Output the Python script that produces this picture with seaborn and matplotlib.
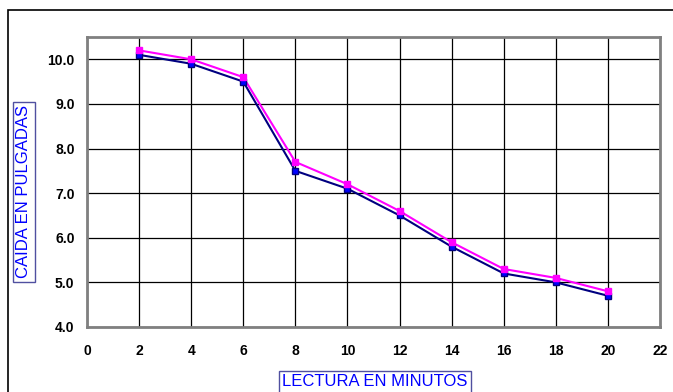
import matplotlib
matplotlib.use("Agg")
import matplotlib.pyplot as plt
import seaborn as sns
import pandas as pd
from matplotlib.patches import Rectangle

minutes = [2, 4, 6, 8, 10, 12, 14, 16, 18, 20]
serie_azul = [10.1, 9.9, 9.5, 7.5, 7.1, 6.5, 5.8, 5.2, 5.0, 4.7]
serie_magenta = [10.2, 10.0, 9.6, 7.7, 7.2, 6.6, 5.9, 5.3, 5.1, 4.8]
x_ticks = list(range(0, 23, 2))
y_ticks = [4.0, 5.0, 6.0, 7.0, 8.0, 9.0, 10.0]

df = pd.DataFrame({
    "min": minutes * 2,
    "val": serie_azul + serie_magenta,
    "serie": ["A"] * len(minutes) + ["B"] * len(minutes),
})

sns.set_theme(style="white")
plt.rcParams['font.family'] = ['Liberation Sans', 'DejaVu Sans']

fig = plt.figure(figsize=(6.73, 3.92), dpi=100)
ax = fig.add_axes([87/673, 1 - 327/392, (660-87)/673, (327-37)/392])

# outer chart frame
fig.patches.append(Rectangle((8/673, -0.1), 1.2, 1 - 10/392 + 0.1, transform=fig.transFigure,
                             fill=False, edgecolor='black', linewidth=1.2))

ax.set_xlim(0, 22)
ax.set_ylim(4.0, 10.5)
ax.set_xticks(x_ticks)
ax.set_yticks(y_ticks)
ax.set_xticklabels([str(t) for t in x_ticks], fontweight='bold', fontsize=10)
ax.set_yticklabels([f"{t:.1f}" for t in y_ticks], fontweight='bold', fontsize=10)
ax.grid(True, color='black', linewidth=0.9)
ax.set_axisbelow(True)

sns.lineplot(data=df, x="min", y="val", hue="serie", palette={"A": "#000080", "B": "#FF00FF"},
             linewidth=1.5, legend=False, ax=ax, zorder=3)
ax.plot(minutes, serie_azul, linestyle='none', marker='s', markersize=4.5,
        markerfacecolor='#0000FF', markeredgecolor='#000080', zorder=4)
ax.plot(minutes, serie_magenta, linestyle='none', marker='s', markersize=4.5,
        markerfacecolor='#FF00FF', markeredgecolor='#FF00FF', zorder=5)

for s in ax.spines.values():
    s.set_color('#808080')
    s.set_linewidth(2)
ax.tick_params(axis='both', which='both', direction='out', length=3, width=1,
               color='#808080', labelcolor='black')
ax.tick_params(axis='x', pad=9)
ax.tick_params(axis='y', pad=6)

ax.set_xlabel("")
ax.set_ylabel("")
fig.text(375/673, 1 - 382/392, "LECTURA EN MINUTOS", color='#0000FF', fontsize=12,
         ha='center', va='center',
         bbox=dict(boxstyle='square,pad=0.2', facecolor='white', edgecolor='#5050A0', linewidth=1))
fig.text(24/673, 1 - 192/392, "CAIDA EN PULGADAS", color='#0000FF', fontsize=12,
         ha='center', va='center', rotation=90,
         bbox=dict(boxstyle='square,pad=0.2', facecolor='white', edgecolor='#5050A0', linewidth=1))

fig.savefig("out.png", dpi=100)
